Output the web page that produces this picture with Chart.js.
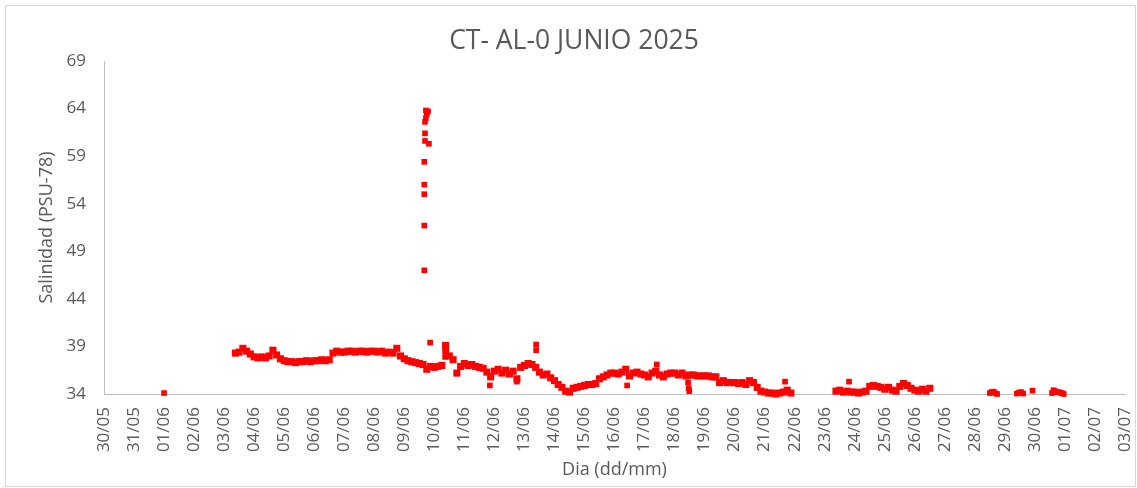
<!DOCTYPE html>
<html>
<head>
<meta charset="utf-8">
<script src="https://cdn.jsdelivr.net/npm/chart.js@4.4.1/dist/chart.umd.min.js"></script>
<style>
  body { margin: 0; background: #fff; }
</style>
</head>
<body>
<canvas id="grafico" width="1137" height="488"></canvas>
<script>
// dia 0 = 30/05/2025, eje x en dias
const etiquetasX = ['30/05','31/05','01/06','02/06','03/06','04/06','05/06','06/06','07/06','08/06',
  '09/06','10/06','11/06','12/06','13/06','14/06','15/06','16/06','17/06','18/06','19/06','20/06',
  '21/06','22/06','23/06','24/06','25/06','26/06','27/06','28/06','29/06','30/06','01/07','02/07','03/07'];
const ticksY = [34, 39, 44, 49, 54, 59, 64, 69];

// registros cada 3 horas (00h,03h,...,21h) por dia
const diasRegistro = [4, 5, 6, 7, 8, 9, 10, 11, 12, 13, 14, 15, 16, 17, 18, 19, 20, 21, 22, 24, 25, 26, 27];
const lecturas3h = [
  [null, null, null, 38.3, 38.4, 38.8, 38.5, 38.2],
  [37.9, 37.8, 37.9, 37.8, 38.0, 38.6, 38.1, 37.7],
  [37.5, 37.4, 37.4, 37.3, 37.4, 37.4, 37.5, 37.4],
  [37.5, 37.5, 37.6, 37.5, 37.6, 38.3, 38.5, 38.4],
  [38.4, 38.5, 38.5, 38.4, 38.5, 38.5, 38.4, 38.5],
  [38.5, 38.4, 38.5, 38.3, 38.4, 38.3, 38.8, 38.0],
  [37.7, 37.5, 37.4, 37.3, 37.2, 37.1, 36.6, 36.9],
  [36.8, 36.9, 37.0, 39.1, 38.0, 37.6, 36.2, 36.9],
  [37.2, 37.0, 37.1, 36.9, 36.8, 36.7, 36.3, 35.8],
  [36.4, 36.6, 36.2, 36.5, 36.1, 36.4, 35.6, 36.8],
  [37.0, 37.2, 37.1, 36.8, 36.3, 36.0, 36.1, 35.7],
  [35.4, 35.0, 34.7, 34.3, 34.2, 34.6, 34.7, 34.8],
  [34.9, 35.0, 35.0, 35.1, 35.6, 35.8, 36.0, 36.2],
  [36.2, 36.1, 36.3, 36.6, 35.9, 36.2, 36.3, 36.1],
  [36.0, 35.8, 36.2, 36.4, 36.0, 35.8, 36.1, 36.2],
  [36.2, 36.0, 36.2, 35.9, 36.0, 36.0, 35.9, 35.9],
  [35.9, 35.9, 35.8, 35.8, 35.2, 35.4, 35.2, 35.2],
  [35.2, 35.1, 35.2, 35.0, 35.4, 35.2, 34.7, 34.3],
  [34.2, 34.1, 34.1, 34.0, 34.1, 34.2, 34.4, 34.1],
  [null, null, null, 34.3, 34.4, 34.2, 34.3, 34.2],
  [34.2, 34.1, 34.2, 34.3, 34.8, 34.9, 34.8, 34.7],
  [34.5, 34.7, 34.4, 34.3, 34.8, 35.1, 34.9, 34.6],
  [34.4, 34.3, 34.5, 34.3, 34.6, null, null, null]
];

// puntos sueltos (pico del 09/06, valores aislados y ultimos dias)
const sueltosDia = [2.0,
  10.666, 10.666, 10.666, 10.666, 10.666, 10.69, 10.82, 10.69, 10.69, 10.72, 10.75, 10.79, 10.72, 10.86,
  11.36, 11.36, 11.40, 12.85, 13.75, 14.39, 14.39, 17.42, 18.41, 19.45, 19.47, 19.49, 22.68, 24.81,
  29.50, 29.56, 29.62, 29.68, 29.74, 30.40, 30.47, 30.54, 30.61, 30.92,
  31.57, 31.62, 31.67, 31.72, 31.78, 31.84, 31.90, 31.96];
const sueltosValor = [34.1,
  47.0, 51.7, 55.0, 56.0, 58.4, 60.6, 60.3, 61.4, 62.6, 63.0, 63.4, 63.7, 63.8, 39.4,
  38.5, 37.9, 38.6, 34.9, 35.3, 39.2, 38.6, 34.9, 37.1, 35.2, 34.6, 34.3, 35.3, 35.3,
  34.1, 34.2, 34.25, 34.1, 34.0, 34.05, 34.15, 34.2, 34.05, 34.35,
  34.1, 34.4, 34.3, 34.2, 34.2, 34.15, 34.1, 34.0];

const titulo = 'CT- AL-0 JUNIO 2025';

const serie = [];
diasRegistro.forEach((dia, i) => {
  lecturas3h[i].forEach((v, k) => {
    if (v !== null) serie.push({ x: dia + k / 8, y: v });
  });
});
const sueltos = sueltosDia.map((d, i) => ({ x: d, y: sueltosValor[i] }));

const gris = '#595959';
const fuente = "'Open Sans', 'Noto Sans', sans-serif";

// fondo, marco claro y titulo (un poco a la derecha del centro, como en Excel)
const marco = {
  id: 'marco',
  beforeDraw(chart) {
    const ctx = chart.ctx;
    ctx.save();
    ctx.fillStyle = '#fff';
    ctx.fillRect(0, 0, chart.width, chart.height);
    ctx.strokeStyle = '#D9D9D9';
    ctx.lineWidth = 1;
    ctx.strokeRect(5.5, 5.5, chart.width - 7, chart.height - 7);
    ctx.restore();
  },
  afterDraw(chart) {
    const ctx = chart.ctx;
    ctx.save();
    ctx.fillStyle = gris;
    ctx.font = '26.5px ' + fuente;
    ctx.textAlign = 'center';
    ctx.textBaseline = 'middle';
    ctx.fillText(titulo, 574, 41);
    ctx.restore();
  }
};

new Chart(document.getElementById('grafico'), {
  type: 'scatter',
  data: {
    datasets: [{
      label: 'Salinidad',
      data: serie,
      backgroundColor: '#FF0000',
      borderWidth: 0,
      pointStyle: 'rect',
      pointRadius: 5,
      clip: false
    }, {
      label: 'Salinidad (sueltos)',
      data: sueltos,
      backgroundColor: '#FF0000',
      borderWidth: 0,
      pointStyle: 'rect',
      pointRadius: 4,
      clip: false
    }]
  },
  options: {
    responsive: false,
    animation: false,
    devicePixelRatio: 1,
    layout: { padding: { left: 0, right: 12, top: 61, bottom: 0 } },
    plugins: {
      legend: { display: false },
      tooltip: { enabled: false },
      title: { display: false }
    },
    scales: {
      x: {
        type: 'linear',
        min: 0,
        max: 34,
        afterBuildTicks: (scale) => {
          scale.ticks = etiquetasX.map((e, i) => ({ value: i }));
        },
        afterFit: (scale) => {
          scale.height = 94;
          scale.paddingLeft = 0;
          scale.paddingRight = 0;
        },
        ticks: {
          autoSkip: false,
          minRotation: 90,
          maxRotation: 90,
          padding: 13,
          color: gris,
          font: { family: fuente, size: 17 },
          callback: (v) => etiquetasX[v]
        },
        grid: { display: false, drawTicks: false },
        border: { display: true, color: '#BFBFBF', width: 1 },
        title: {
          display: true,
          text: 'Dia (dd/mm)',
          color: gris,
          font: { family: fuente, size: 18 },
          padding: { top: 0, bottom: 7 }
        }
      },
      y: {
        min: 34,
        max: 69,
        afterBuildTicks: (scale) => {
          scale.ticks = ticksY.map(v => ({ value: v }));
        },
        afterFit: (scale) => {
          scale.width = 104;
          scale.paddingTop = 0;
          scale.paddingBottom = 0;
        },
        ticks: {
          padding: 18,
          color: gris,
          font: { family: fuente, size: 17 }
        },
        grid: { display: false, drawTicks: false },
        border: { display: true, color: '#BFBFBF', width: 1 },
        title: {
          display: true,
          text: 'Salinidad (PSU-78)',
          color: gris,
          font: { family: fuente, size: 18 },
          padding: { top: 36, bottom: 0 }
        }
      }
    }
  },
  plugins: [marco]
});
</script>
</body>
</html>
